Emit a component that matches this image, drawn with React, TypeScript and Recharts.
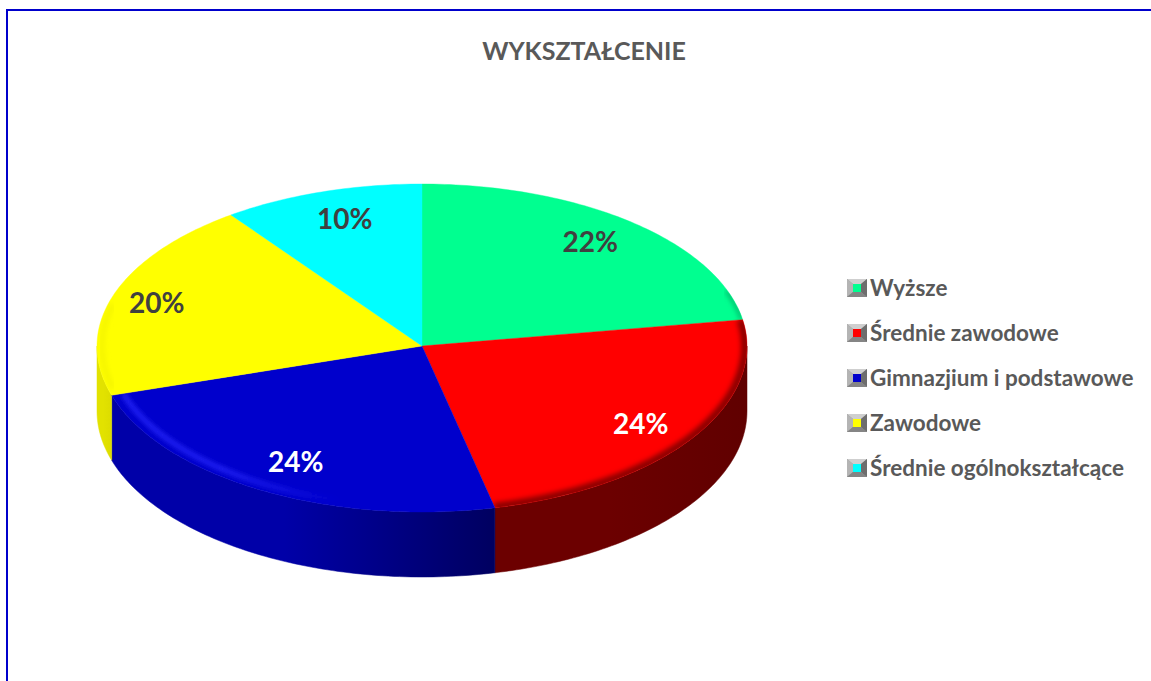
import React from "react";
import { PieChart, Pie, Legend } from "recharts";

const categories = ["Wyższe", "Średnie zawodowe", "Gimnazjium i podstawowe", "Zawodowe", "Średnie ogólnokształcące"];
const shares = [22.4, 24.0, 23.8, 19.8, 10.0];
const colors = ["#00FF90", "#FF0000", "#0000CC", "#FFFF00", "#00FFFF"];
const labelColors = ["#404040", "#FFFFFF", "#FFFFFF", "#404040", "#404040"];
const labelReachX = [0.8, 0.81, 0.78, 0.86, 0.77];
const labelReachY = [0.85, 0.83, 0.8, 0.86, 0.83];
const wallStops: string[][] = [
  ["#00b066", "#00a05c"],
  ["#6c0000", "#600000"],
  ["#0000a8", "#000060"],
  ["#e2e200", "#dcdc00"],
  ["#00c0c0", "#00c0c0"],
];
const rimColors = ["#00a862", "#8a0000", "#2a2aff", "#f4f400", "#00ffff"];
const rimFadeLeft = [1, 1, 1, 1, 1];
const rimFadeRight = [1, 1, 0, 1, 1];
const rimWidths = [3, 8, 4, 5, 0];
const rimInsets = [1, 2, 12, 5, 0];
const rimStart = [20, 10, -105, -165, 0];
const rimEnd = [-90, -100, -170, -195, 0];

const rows = categories.map((name, i) => ({ name, value: shares[i], fill: colors[i] }));

const FONT = "Lato, Carlito, Calibri, sans-serif";
const CX = 422;
const CY = 346;
const RX = 325;
const TOP_RATIO = 162 / 325;
const BOTTOM_RATIO = 166 / 325;
const DEPTH = 65;
const RAD = Math.PI / 180;

function pt(cx: number, cy: number, r: number, deg: number) {
  const s = Math.sin(deg * RAD);
  const ratio = s >= 0 ? TOP_RATIO : BOTTOM_RATIO;
  return [cx + r * Math.cos(deg * RAD), cy - r * ratio * s];
}

function arcPoints(cx: number, cy: number, r: number, from: number, to: number) {
  const n = Math.max(2, Math.ceil(Math.abs(from - to)));
  const out: number[][] = [];
  for (let i = 0; i <= n; i++) out.push(pt(cx, cy, r, from + ((to - from) * i) / n));
  return out;
}

const toPath = (p: number[][]) => p.map((q, i) => `${i ? "L" : "M"}${q[0].toFixed(2)} ${q[1].toFixed(2)}`).join(" ");

function WallShape(props: any) {
  const { cx, cy, outerRadius, startAngle, endAngle, index } = props;
  const a = Math.min(startAngle, 0);
  const b = Math.max(endAngle, -180);
  if (a <= b) return <g />;
  const top = arcPoints(cx, cy, outerRadius, a, b);
  const bottom = arcPoints(cx, cy + DEPTH, outerRadius, b, a);
  const id = `wall-${index}`;
  const xs = top.map((q) => q[0]);
  return (
    <g>
      <defs>
        <linearGradient id={id} gradientUnits="userSpaceOnUse" x1={Math.min(...xs)} x2={Math.max(...xs)} y1="0" y2="0">
          <stop offset="0" stopColor={wallStops[index][0]} />
          <stop offset="0.45" stopColor={wallStops[index][0]} />
          <stop offset="1" stopColor={wallStops[index][1]} />
        </linearGradient>
      </defs>
      <path d={`${toPath(top)} ${toPath(bottom).replace("M", "L")} Z`} fill={`url(#${id})`} stroke={`url(#${id})`} strokeWidth={0.5} />
    </g>
  );
}

function TopShape(props: any) {
  const { cx, cy, outerRadius, startAngle, endAngle, index, fill } = props;
  const arc = arcPoints(cx, cy, outerRadius, startAngle, endAngle);
  const d = `M${cx} ${cy} ${toPath(arc).replace("M", "L")} Z`;
  const clip = `top-clip-${index}`;
  const blur = `top-blur-${index}`;
  const fade = `top-fade-${index}`;
  const a = Math.min(startAngle, rimStart[index]);
  const b = Math.max(endAngle, rimEnd[index]);
  const rim = a > b ? arcPoints(cx, cy, outerRadius - rimInsets[index], a, b) : null;
  const xs = rim ? rim.map((q) => q[0]) : [0, 1];
  return (
    <g>
      <defs>
        <clipPath id={clip}>
          <path d={d} />
        </clipPath>
        <filter id={blur} x="-10%" y="-10%" width="120%" height="120%">
          <feGaussianBlur stdDeviation="2.5" />
        </filter>
        <linearGradient id={fade} gradientUnits="userSpaceOnUse" x1={Math.min(...xs)} x2={Math.max(...xs)} y1="0" y2="0">
          <stop offset="0" stopColor={rimColors[index]} stopOpacity={rimFadeLeft[index]} />
          <stop offset="0.45" stopColor={rimColors[index]} stopOpacity={1} />
          <stop offset="1" stopColor={rimColors[index]} stopOpacity={rimFadeRight[index]} />
        </linearGradient>
      </defs>
      <path d={d} fill={fill} stroke={fill} strokeWidth={0.4} />
      {rim && rimWidths[index] > 0 ? (
        <g clipPath={`url(#${clip})`}>
          <path d={toPath(rim)} fill="none" stroke={`url(#${fade})`} strokeWidth={rimWidths[index]} filter={`url(#${blur})`} />
        </g>
      ) : null}
    </g>
  );
}

function percentLabel(props: any) {
  const { cx, cy, midAngle, outerRadius, percent, index } = props;
  const x = pt(cx, cy, outerRadius * labelReachX[index], midAngle)[0];
  const y = pt(cx, cy, outerRadius * labelReachY[index], midAngle)[1];
  return (
    <text key={index} x={x} y={y} fill={labelColors[index]} textAnchor="middle" dominantBaseline="central" fontFamily={FONT} fontWeight={700} fontSize={28}>
      {`${Math.round(percent * 100)}%`}
    </text>
  );
}

function LegendIcon({ color }: { color: string }) {
  return (
    <svg width={20} height={18} style={{ display: "block", flex: "none" }}>
      <rect width={20} height={18} fill="#999" />
      <polygon points="0,0 20,0 14,5 6,5" fill="#cfcfcf" />
      <polygon points="0,0 6,5 6,13 0,18" fill="#b4b4b4" />
      <polygon points="20,0 14,5 14,13 20,18" fill="#6e6e6e" />
      <polygon points="0,18 6,13 14,13 20,18" fill="#858585" />
      <rect x={6} y={5} width={8} height={8} fill={color} />
    </svg>
  );
}

function LegendBody({ payload }: any) {
  const shown: any[] = [];
  categories.forEach((name) => {
    const hit = (payload || []).find((item: any) => item.value === name);
    if (hit) shown.push(hit);
  });
  return (
    <div style={{ fontFamily: FONT, fontWeight: 700, fontSize: 22.5, color: "#595959" }}>
      {shown.map((item: any) => (
        <div key={item.value} style={{ display: "flex", alignItems: "center", height: 45, whiteSpace: "nowrap", gap: 3 }}>
          <LegendIcon color={item.color} />
          <span>{item.value}</span>
        </div>
      ))}
    </div>
  );
}

export default function App() {
  return (
    <div style={{ position: "absolute", left: 0, top: 0, width: 1151, height: 681, overflow: "hidden", background: "#fff" }}>
      <div style={{ position: "absolute", left: 6, top: 9, width: 1200, height: 800, borderLeft: "2px solid #0000CC", borderTop: "2px solid #0000CC" }} />
      <PieChart width={1151} height={681} margin={{ top: 0, right: 0, bottom: 0, left: 0 }} style={{ position: "absolute", left: 0, top: 0 }}>
        <text x={584} y={49.5} textAnchor="middle" dominantBaseline="central" fontFamily={FONT} fontWeight={700} fontSize={25} fill="#595959">
          WYKSZTAŁCENIE
        </text>
        <Pie
          data={rows}
          dataKey="value"
          nameKey="name"
          cx={CX}
          cy={CY}
          innerRadius={0}
          outerRadius={RX}
          startAngle={90}
          endAngle={-270}
          paddingAngle={0}
          stroke="none"
          legendType="none"
          isAnimationActive={false}
          shape={WallShape}
        />
        <Pie
          data={rows}
          dataKey="value"
          nameKey="name"
          cx={CX}
          cy={CY}
          innerRadius={0}
          outerRadius={RX}
          startAngle={90}
          endAngle={-270}
          paddingAngle={0}
          stroke="none"
          isAnimationActive={false}
          shape={TopShape}
          label={percentLabel}
          labelLine={false}
        />
        <Legend
          layout="vertical"
          align="right"
          verticalAlign="top"
          itemSorter={null}
          content={<LegendBody />}
          wrapperStyle={{ position: "absolute", left: 847, top: 265, width: 300, right: "auto", bottom: "auto" }}
        />
      </PieChart>
    </div>
  );
}
